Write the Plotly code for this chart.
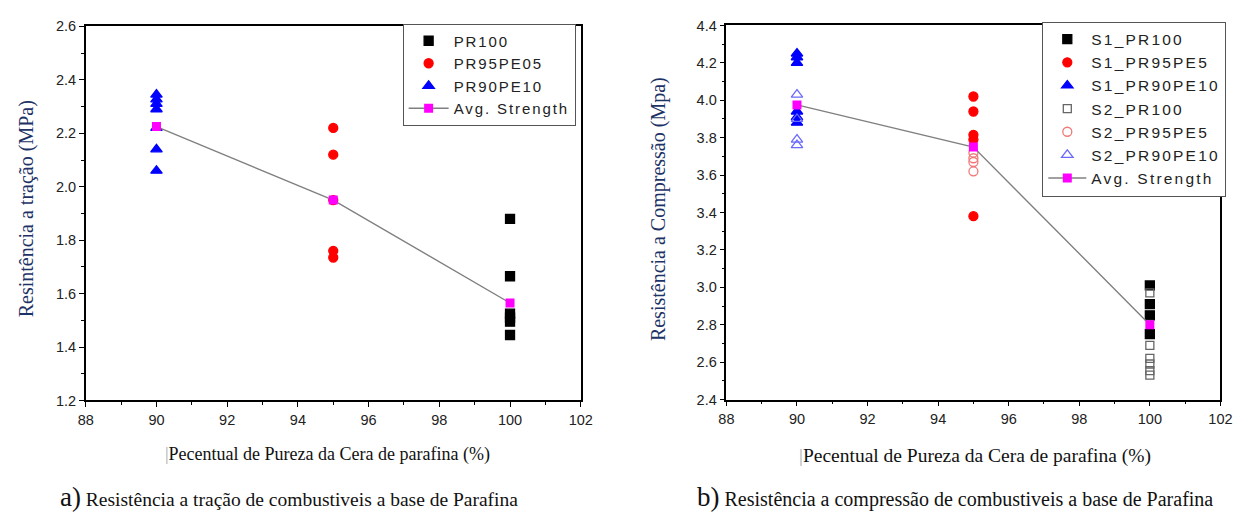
import plotly.graph_objects as go

# ---- Tensile strength (left panel) ----
purity_pr100 = [100, 100, 100, 100, 100, 100]
tracao_pr100 = [1.88, 1.665, 1.525, 1.51, 1.495, 1.445]
purity_pr95 = [95, 95, 95, 95, 95]
tracao_pr95 = [2.22, 2.12, 1.95, 1.76, 1.735]
purity_pr90 = [90, 90, 90, 90, 90, 90, 90]
tracao_pr90 = [2.345, 2.327, 2.31, 2.29, 2.22, 2.14, 2.06]
purity_avg = [90, 95, 100]
tracao_avg = [2.225, 1.95, 1.565]

# ---- Compressive strength (right panel) ----
comp_s1_pr100 = [3.01, 2.91, 2.85, 2.75]
comp_s1_pr95 = [4.02, 3.94, 3.815, 3.79, 3.38]
comp_s1_pr90 = [4.25, 4.23, 4.20, 3.94, 3.91, 3.88]
comp_s2_pr100 = [2.97, 2.69, 2.62, 2.59, 2.555, 2.53]
comp_s2_pr95 = [3.72, 3.69, 3.67, 3.62]
comp_s2_pr90 = [4.03, 3.90, 3.79, 3.76]
comp_avg = [3.975, 3.75, 2.80]

x_ticks = [88, 90, 92, 94, 96, 98, 100, 102]

W, H = 1259, 518
TICK_FONT = dict(family="Liberation Sans, Arial", size=14.5, color="#222222")
SANS = "Liberation Sans, Arial"
SERIF = "Liberation Serif, Times New Roman"
AVG_LINE = dict(color="#808080", width=1.4)
AVG_MARK = dict(symbol="square", color="#ff00ff", size=9)


def spaced(label, track=1.9):
    # slightly tracked legend lettering
    return f"<span style='letter-spacing:{track}px'>{label}</span>"


fig = go.Figure()


def pts(xv, yv, name, symbol, color, size, xa, ya, legend, track):
    fig.add_trace(go.Scatter(
        x=xv, y=yv, name=spaced(name, track), mode="markers",
        marker=dict(symbol=symbol, color=color, size=size,
                    line=dict(width=1.3, color=color)),
        xaxis=xa, yaxis=ya, legend=legend))


# left panel
pts(purity_pr100, tracao_pr100, "PR100", "square", "#000000", 9, "x", "y", "legend", 1.9)
pts(purity_pr95, tracao_pr95, "PR95PE05", "circle", "#ff0000", 9, "x", "y", "legend", 1.9)
pts(purity_pr90, tracao_pr90, "PR90PE10", "triangle-up", "#0000ff", 10, "x", "y", "legend", 1.9)
fig.add_trace(go.Scatter(x=purity_avg, y=tracao_avg, name=spaced("Avg. Strength", 1.9),
                         mode="lines+markers", line=AVG_LINE, marker=AVG_MARK,
                         xaxis="x", yaxis="y", legend="legend"))

# right panel
pts([100] * len(comp_s1_pr100), comp_s1_pr100, "S1_PR100", "square", "#000000", 9, "x2", "y2", "legend2", 2.2)
pts([95] * len(comp_s1_pr95), comp_s1_pr95, "S1_PR95PE5", "circle", "#ff0000", 9, "x2", "y2", "legend2", 2.2)
pts([90] * len(comp_s1_pr90), comp_s1_pr90, "S1_PR90PE10", "triangle-up", "#0000ff", 10, "x2", "y2", "legend2", 2.2)
pts([100] * len(comp_s2_pr100), comp_s2_pr100, "S2_PR100", "square-open", "#666666", 8, "x2", "y2", "legend2", 2.2)
pts([95] * len(comp_s2_pr95), comp_s2_pr95, "S2_PR95PE5", "circle-open", "#f07878", 9, "x2", "y2", "legend2", 2.2)
pts([90] * len(comp_s2_pr90), comp_s2_pr90, "S2_PR90PE10", "triangle-up-open", "#6a6aff", 10, "x2", "y2", "legend2", 2.2)
fig.add_trace(go.Scatter(x=purity_avg, y=comp_avg, name=spaced("Avg. Strength", 2.2),
                         mode="lines+markers", line=AVG_LINE, marker=AVG_MARK,
                         xaxis="x2", yaxis="y2", legend="legend2"))


def xaxis(dom, anchor):
    return dict(domain=dom, anchor=anchor, range=[88, 102], tickvals=x_ticks,
                ticks="outside", ticklen=5, tickwidth=1.2, tickcolor="#000",
                minor=dict(dtick=1, ticks="outside", ticklen=3, tickcolor="#000"),
                showline=True, linecolor="#000", linewidth=1.5, mirror=True,
                showgrid=False, zeroline=False, tickfont=TICK_FONT)


def yaxis(dom, anchor, rng, dt):
    return dict(domain=dom, anchor=anchor, range=rng, dtick=dt, tickformat=".1f",
                ticks="outside", ticklen=5, tickwidth=1.2, tickcolor="#000",
                minor=dict(dtick=dt / 2, ticks="outside", ticklen=3, tickcolor="#000"),
                showline=True, linecolor="#000", linewidth=1.5, mirror=True,
                showgrid=False, zeroline=False, tickfont=TICK_FONT)


px_x = lambda v: v / W
px_y = lambda v: 1 - v / H

fig.update_layout(
    width=W, height=H, margin=dict(l=0, r=0, t=0, b=0),
    paper_bgcolor="white", plot_bgcolor="white",
    xaxis=xaxis([px_x(79), px_x(582)], "y"),
    yaxis=yaxis([px_y(405), px_y(19)], "x", [1.2, 2.6], 0.2),
    xaxis2=xaxis([px_x(730), px_x(1232)], "y2"),
    yaxis2=yaxis([px_y(404), px_y(18)], "x2", [2.4, 4.4], 0.2),
    legend=dict(x=px_x(401), y=px_y(16), xanchor="left", yanchor="top",
                bgcolor="white", bordercolor="#555", borderwidth=1,
                font=dict(family=SANS, size=15, color="#222"), itemwidth=40),
    legend2=dict(x=px_x(1051), y=px_y(14), xanchor="left", yanchor="top",
                 bgcolor="white", bordercolor="#555", borderwidth=1,
                 font=dict(family=SANS, size=15.5, color="#222"), itemwidth=38),
    showlegend=True,
)

XT = "<span style='color:#aaaaaa'>|</span>Pecentual de Pureza da Cera de parafina (%)"
ann = []
# axis titles
ann.append(dict(x=px_x(19), y=px_y(207), text="Resintência a tração (MPa)", textangle=-90,
                font=dict(family=SERIF, size=20, color="#1d3266")))
ann.append(dict(x=px_x(661), y=px_y(207), text="Resistência a Compressão (Mpa)", textangle=-90,
                font=dict(family=SERIF, size=20, color="#1d3266")))
ann.append(dict(x=px_x(325), y=px_y(461), text=XT,
                font=dict(family=SERIF, size=18, color="#111")))
ann.append(dict(x=px_x(983), y=px_y(462), text=XT,
                font=dict(family=SERIF, size=19.5, color="#111")))
# captions
ann.append(dict(x=px_x(51), y=px_y(505), xanchor="left",
                text="<span style='font-size:27px'>a)</span> Resistência a tração de combustiveis a base de Parafina",
                font=dict(family=SERIF, size=19.5, color="#111")))
ann.append(dict(x=px_x(698), y=px_y(505), xanchor="left",
                text="<span style='font-size:27px'>b)</span> Resistência a compressão de combustiveis a base de Parafina",
                font=dict(family=SERIF, size=20, color="#111")))
for a in ann:
    a.update(xref="paper", yref="paper", showarrow=False)
    a.setdefault("xanchor", "center")
    a.setdefault("yanchor", "middle")
fig.update_layout(annotations=ann)

fig.write_html("out.html")
